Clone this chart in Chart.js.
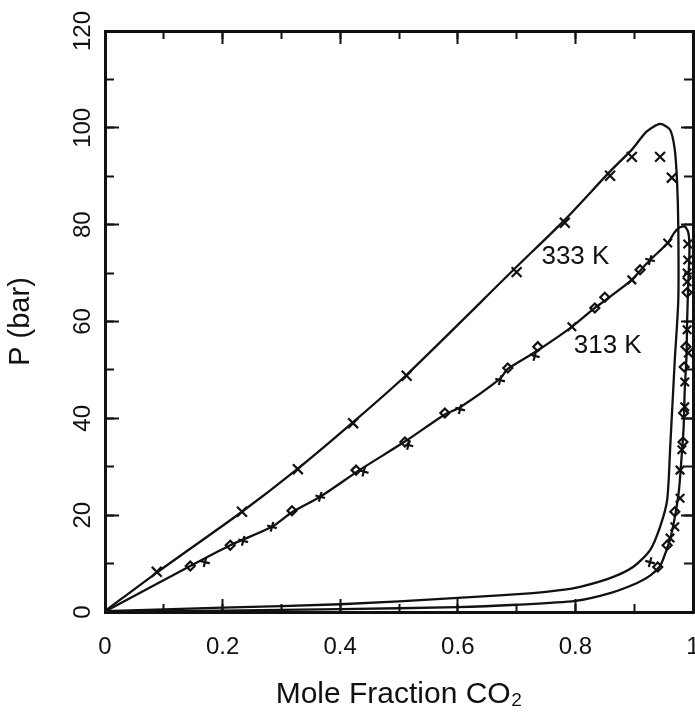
<!DOCTYPE html>
<html>
<head>
<meta charset="utf-8">
<script src="https://cdn.jsdelivr.net/npm/chart.js@4/dist/chart.umd.min.js"></script>
<style>
  html, body { margin: 0; padding: 0; background: #fff; }
</style>
</head>
<body>
<canvas id="chart" width="695" height="726"></canvas>
<script>
// Tick values for the frame
const xMajorTicks = [0, 0.2, 0.4, 0.6, 0.8, 1];
const xMinorTicks = [0, 0.1, 0.2, 0.3, 0.4, 0.5, 0.6, 0.7, 0.8, 0.9, 1];
const yMajorTicks = [0, 20, 40, 60, 80, 100, 120];
const yMinorTicks = [0, 10, 20, 30, 40, 50, 60, 70, 80, 90, 100, 110, 120];

// Isotherm names
const isothermNames = ['333 K', '313 K'];

// Calculated phase envelope at 333 K: [mole fraction CO2, P / bar]
const calc333 = [
  [0, 0.2], [0.09, 8.3], [0.233, 20.7], [0.328, 29.6], [0.422, 39.2], [0.513, 49.0],
  [0.70, 71.3], [0.782, 81.0], [0.859, 91.0], [0.896, 95.5], [0.921, 99.2],
  [0.944, 100.8], [0.961, 99.6], [0.969, 95.5], [0.973, 88.6], [0.975, 79.5], [0.975, 64.5],
  [0.969, 52.0], [0.961, 33.5], [0.956, 23.1], [0.944, 17.6], [0.927, 12.8], [0.898, 9.3],
  [0.859, 7.0], [0.808, 5.2], [0.774, 4.5], [0.728, 3.9], [0.6, 2.9], [0.4, 1.6],
  [0.2, 0.9], [0, 0.2]
];

// Calculated phase envelope at 313 K
const calc313 = [
  [0, 0.1], [0.145, 9.5], [0.213, 13.8], [0.284, 17.6], [0.318, 20.6], [0.366, 23.8],
  [0.434, 29.4], [0.51, 35.2], [0.578, 40.8], [0.604, 42.3], [0.672, 48.2], [0.685, 50.2],
  [0.733, 53.8], [0.794, 58.9], [0.833, 62.8], [0.85, 64.3], [0.896, 68.6], [0.91, 70.5],
  [0.927, 72.7], [0.957, 76.2], [0.968, 78.3], [0.977, 79.4], [0.986, 79.6], [0.992, 78.4],
  [0.994, 75.0], [0.992, 68.0], [0.990, 60.0], [0.989, 53.0], [0.986, 46.0], [0.984, 38.0],
  [0.980, 31.0], [0.976, 25.0], [0.969, 19.5], [0.961, 15.0], [0.952, 11.8], [0.944, 9.5],
  [0.927, 7.5], [0.905, 6.0], [0.859, 3.9], [0.8, 2.3], [0.7, 1.5], [0.6, 1.0],
  [0.4, 0.6], [0.2, 0.3], [0, 0.1]
];

// Measured points, 333 K
const exp333 = [
  [0.088, 8.3], [0.233, 20.7], [0.328, 29.5], [0.422, 39.0], [0.513, 48.8], [0.70, 70.2],
  [0.782, 80.4], [0.859, 90.1], [0.896, 94.0], [0.944, 94.0], [0.964, 89.7]
];

// Measured points, 313 K (three symbol sets)
const exp313Circle = [
  [0.145, 9.5], [0.213, 13.8], [0.318, 20.9], [0.427, 29.3], [0.51, 35.1], [0.578, 41.1],
  [0.685, 50.4], [0.736, 54.8], [0.833, 62.8], [0.85, 65.0], [0.91, 70.7],
  [0.990, 66.0], [0.988, 54.8], [0.985, 50.6], [0.984, 41.1], [0.983, 35.1],
  [0.969, 20.7], [0.956, 13.8], [0.940, 9.3]
];
const exp313Plus = [
  [0.17, 10.3], [0.235, 14.7], [0.284, 17.6], [0.366, 23.8], [0.44, 29.0], [0.516, 34.5],
  [0.604, 41.9], [0.672, 47.9], [0.731, 52.9], [0.927, 72.7], [0.927, 10.3]
];
const exp313Cross = [
  [0.794, 58.9], [0.896, 68.6], [0.957, 76.2], [0.991, 76.0], [0.991, 72.7], [0.990, 70.0],
  [0.990, 68.2], [0.990, 58.3], [0.992, 53.5], [0.986, 47.5], [0.986, 42.4], [0.981, 33.5],
  [0.978, 29.3], [0.978, 23.5], [0.969, 17.6], [0.961, 15.3]
];

const INK = '#111111';
const FONT = "'Liberation Sans', Arial, sans-serif";
const toXY = arr => arr.map(([x, y]) => ({ x, y }));

function curveSet(points) {
  return {
    data: toXY(points), showLine: true, borderColor: INK, borderWidth: 2.3,
    pointRadius: 0, pointHoverRadius: 0, tension: 0.25, fill: false
  };
}
function markerSet(points, style, radius, rotation) {
  return {
    data: toXY(points), showLine: false, pointStyle: style, pointRadius: radius,
    pointHoverRadius: radius, pointBorderColor: INK, pointBackgroundColor: '#ffffff',
    pointBorderWidth: 2.2, pointRotation: rotation || 0
  };
}

// Inward tick marks on every side of the frame
function frameAxis(position, axis, ticks, length, opts) {
  const horizontal = position === 'top' || position === 'bottom';
  const base = {
    type: 'linear', position, axis,
    min: 0, max: horizontal ? 1 : 120,
    weight: 0,
    afterBuildTicks: s => { s.ticks = ticks.map(v => ({ value: v })); },
    afterFit: s => {
      if (horizontal) s.height = 0; else s.width = 0;
      s.paddingLeft = s.paddingRight = s.paddingTop = s.paddingBottom = 0;
    },
    ticks: { display: false },
    grid: { display: true, drawOnChartArea: false, drawTicks: true, tickLength: -length,
            tickWidth: 2, tickColor: INK },
    border: { display: false }
  };
  return Object.assign(base, opts || {});
}

const isothermLabels = {
  id: 'isothermLabels',
  afterDatasetsDraw(chart) {
    const { ctx } = chart;
    const xs = chart.scales.x, ys = chart.scales.y;
    const anchors = [[0.80, 73.3], [0.855, 55.0]];
    ctx.save();
    ctx.font = '26px ' + FONT;
    ctx.fillStyle = INK;
    ctx.textAlign = 'center';
    ctx.textBaseline = 'middle';
    isothermNames.forEach((name, i) => {
      ctx.fillText(name, xs.getPixelForValue(anchors[i][0]), ys.getPixelForValue(anchors[i][1]));
    });
    ctx.restore();
  }
};

new Chart(document.getElementById('chart'), {
  type: 'scatter',
  data: {
    datasets: [
      curveSet(calc333),
      curveSet(calc313),
      markerSet(exp333, 'crossRot', 7),
      markerSet(exp313Circle, 'rectRot', 4.5),
      markerSet(exp313Plus, 'cross', 5, 15),
      markerSet(exp313Cross, 'crossRot', 6)
    ]
  },
  options: {
    responsive: false,
    animation: false,
    events: [],
    layout: { autoPadding: false, padding: { top: 31, right: 2, bottom: 0, left: 0 } },
    plugins: { legend: { display: false }, tooltip: { enabled: false } },
    scales: {
      x: {
        type: 'linear', position: 'bottom', min: 0, max: 1, weight: 1,
        afterBuildTicks: s => { s.ticks = xMajorTicks.map(v => ({ value: v })); },
        afterFit: s => { s.height = 114; s.paddingLeft = 0; s.paddingRight = 0; },
        ticks: { autoSkip: false, maxRotation: 0, minRotation: 0, padding: 34, color: INK,
                 font: { family: FONT, size: 24 }, callback: v => String(v) },
        grid: { drawOnChartArea: false, drawTicks: true, tickLength: -13, tickWidth: 2, tickColor: INK },
        border: { display: true, width: 3, color: INK },
        title: { display: true, text: 'Mole Fraction CO\u2082', color: INK,
                 font: { family: FONT, size: 30 }, padding: { top: 0, bottom: 13 } }
      },
      y: {
        type: 'linear', position: 'left', min: 0, max: 120, weight: 1,
        afterBuildTicks: s => { s.ticks = yMajorTicks.map(v => ({ value: v })); },
        afterFit: s => { s.width = 105; s.paddingTop = 0; s.paddingBottom = 0; },
        ticks: { autoSkip: false, minRotation: 90, maxRotation: 90, crossAlign: 'center',
                 padding: 16, color: INK, font: { family: FONT, size: 24 } },
        grid: { drawOnChartArea: false, drawTicks: true, tickLength: -14, tickWidth: 2, tickColor: INK },
        border: { display: true, width: 3, color: INK },
        title: { display: true, text: 'P (bar)', color: INK,
                 font: { family: FONT, size: 29 }, padding: { top: 4, bottom: 0 } }
      },
      xMinor: frameAxis('bottom', 'x', xMinorTicks, 8),
      xTop: frameAxis('top', 'x', xMajorTicks, 13, { border: { display: true, width: 3, color: INK } }),
      xTopMinor: frameAxis('top', 'x', xMinorTicks, 8),
      yMinor: frameAxis('left', 'y', yMinorTicks, 9),
      yRight: frameAxis('right', 'y', yMajorTicks, 12, { border: { display: true, width: 3, color: INK } }),
      yRightMinor: frameAxis('right', 'y', yMinorTicks, 9)
    }
  },
  plugins: [isothermLabels]
});
</script>
</body>
</html>
